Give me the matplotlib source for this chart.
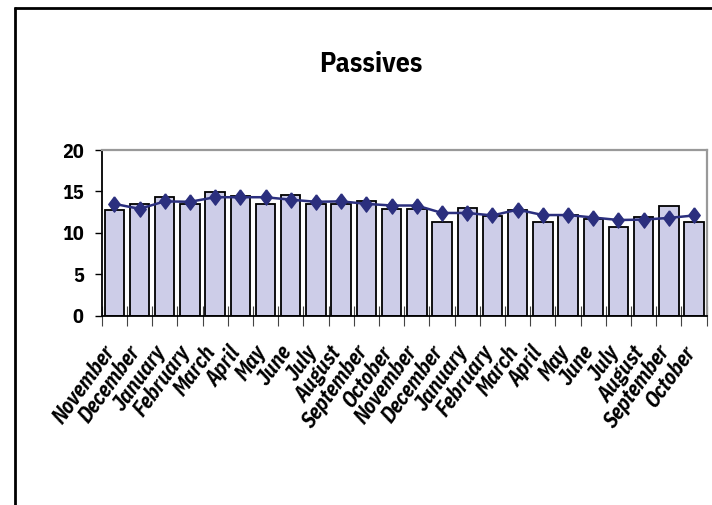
import matplotlib
matplotlib.use("Agg")
import matplotlib.pyplot as plt
import matplotlib.transforms as mtransforms
from matplotlib.lines import Line2D
import numpy as np

# Monthly passives: bar = monthly value, line = trailing average
months = ["November", "December", "January", "February", "March", "April",
          "May", "June", "July", "August", "September", "October",
          "November", "December", "January", "February", "March", "April",
          "May", "June", "July", "August", "September", "October"]
monthly = [12.7, 13.5, 14.3, 13.5, 14.9, 14.4, 13.5, 14.6, 13.5, 13.5, 13.8, 12.9,
           12.9, 11.3, 12.95, 12.0, 12.7, 11.3, 12.1, 11.7, 10.75, 11.9, 13.25, 11.3]
trend = [13.5, 12.9, 13.8, 13.75, 14.3, 14.3, 14.3, 14.0, 13.75, 13.8, 13.5, 13.3,
         13.3, 12.4, 12.4, 12.1, 12.8, 12.15, 12.15, 11.85, 11.55, 11.6, 11.8, 12.1]
y_ticks = [0, 5, 10, 15, 20]

NARROW = ["Nimbus Sans Narrow", "Liberation Sans Narrow", "IBM Plex Sans Condensed",
          "Liberation Sans", "DejaVu Sans"]
plt.rcParams["font.family"] = NARROW

W, H = 712, 505
fig = plt.figure(figsize=(W / 100, H / 100), dpi=100)
fig.patch.set_facecolor("white")

# chart frame (left and top edges visible)
frame_kw = dict(color="black", linewidth=2.0, solid_capstyle="butt",
                transform=fig.transFigure)
fig.add_artist(Line2D([15 / W, 15 / W], [0, 1 - 7 / H], **frame_kw))
fig.add_artist(Line2D([15 / W - 0.0014, 1], [1 - 7.5 / H, 1 - 7.5 / H], **frame_kw))

left, right = 101.7 / W, 706.7 / W
bottom, top = 1 - 315.7 / H, 1 - 150 / H
ax = fig.add_axes([left, bottom, right - left, top - bottom])

x = np.arange(len(months))
ax.bar(x, monthly, width=0.77, color="#CDCDE8", edgecolor="black",
       linewidth=1.3, zorder=2)

diamond = [(0, 1), (0.75, 0), (0, -1), (-0.75, 0), (0, 1)]
ax.plot(x, trend, color="#2B2F7E", linewidth=1.8, marker=diamond,
        markersize=11, markerfacecolor="#2B2F7E", markeredgecolor="#2B2F7E",
        zorder=3)

ax.set_xlim(-0.5, len(months) - 0.5)
ax.set_ylim(0, 20)

for side in ("top", "right"):
    ax.spines[side].set_color("#999999")
    ax.spines[side].set_linewidth(1.6)
for side in ("left", "bottom"):
    ax.spines[side].set_color("black")
    ax.spines[side].set_linewidth(1.3)
ax.spines["bottom"].set_zorder(4)

ax.set_yticks(y_ticks)
ax.set_yticklabels([str(v) for v in y_ticks], fontsize=14.5, fontweight="bold")
ax.tick_params(axis="y", direction="out", length=5, width=1.0, color="black", pad=8)

# category boundaries as crossing ticks, labels at category centres
ax.set_xticks(np.arange(len(months) + 1) - 0.5, minor=True)
ax.tick_params(axis="x", which="minor", direction="inout", length=14,
               width=0.8, color="#444444")
ax.set_xticks(x)
ax.set_xticklabels(months, rotation=54, ha="right", va="top",
                   rotation_mode="anchor", fontsize=15.5, fontweight="bold",
                   fontstyle="italic")
ax.tick_params(axis="x", which="major", length=0, pad=19)
offset = mtransforms.ScaledTranslation(-12 / 100, 0, fig.dpi_scale_trans)
for lab in ax.get_xticklabels():
    lab.set_transform(lab.get_transform() + offset)

fig.text(371 / W, 1 - 64 / H, "Passives", ha="center", va="center",
         fontsize=20, fontweight="bold")

fig.savefig("out.png", dpi=100)
